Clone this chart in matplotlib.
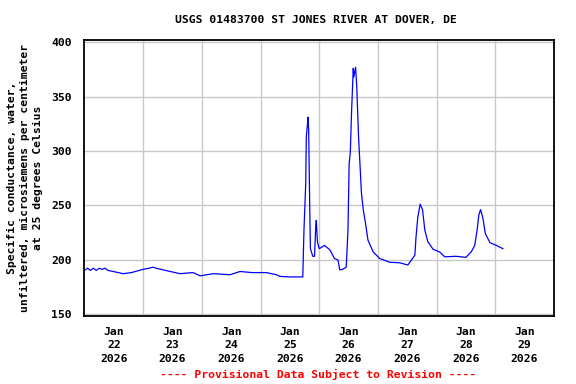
import matplotlib
matplotlib.use("Agg")
import matplotlib.pyplot as plt

# time in days since Jan 22 2026 00:00, specific conductance (uS/cm)
days = [0.00, 0.05, 0.10, 0.15, 0.20, 0.25, 0.30, 0.35, 0.40, 0.49, 0.66, 0.80, 1.00,
        1.10, 1.17, 1.22, 1.30, 1.46, 1.63, 1.85, 1.97, 2.20, 2.48, 2.65, 2.85, 3.10,
        3.27, 3.33, 3.50, 3.72, 3.74, 3.77, 3.78, 3.80, 3.81, 3.82, 3.84, 3.85, 3.89,
        3.92, 3.94, 3.95, 3.97, 4.00, 4.09, 4.18, 4.26, 4.32, 4.35, 4.40, 4.46, 4.49,
        4.51, 4.53, 4.55, 4.58, 4.59, 4.62, 4.64, 4.67, 4.70, 4.72, 4.75, 4.79, 4.83,
        4.92, 5.03, 5.20, 5.37, 5.51, 5.57, 5.63, 5.65, 5.68, 5.72, 5.76, 5.80, 5.85,
        5.94, 6.05, 6.14, 6.33, 6.50, 6.59, 6.65, 6.69, 6.72, 6.75, 6.79, 6.83, 6.91,
        7.02, 7.13]
cond = [190, 192, 190, 192, 190, 192, 191, 192, 190, 189, 187, 188, 191,
        192, 193, 192, 191, 189, 187, 188, 185, 187, 186, 189, 188, 188,
        186, 184.5, 184, 184, 227, 270, 313, 325, 331, 319, 242, 210, 203,
        203, 230, 236, 216, 210, 213, 209, 201, 199.5, 190.5, 191, 193, 227,
        288, 299, 334, 376, 368, 377, 359, 313, 282, 261, 246, 233, 218,
        207, 201, 197.5, 197, 195, 199.5, 204, 221, 239, 251, 246, 227, 216.5,
        209.5, 207, 202.5, 203, 202, 207, 213, 227, 241, 246, 238, 224, 215.5,
        213, 210]

tick_labels = ["Jan\n22\n2026", "Jan\n23\n2026", "Jan\n24\n2026", "Jan\n25\n2026",
               "Jan\n26\n2026", "Jan\n27\n2026", "Jan\n28\n2026", "Jan\n29\n2026"]

font = "DejaVu Sans Mono"
fs = 8.2
fig = plt.figure(figsize=(5.76, 3.84), dpi=100)
ax = fig.add_axes([0.1467, 0.177, 0.815, 0.72])

ax.plot(days, cond, color="#0000ff", linewidth=0.9)

ax.set_xlim(0, 8)
ax.set_ylim(148, 402.5)
ax.set_yticks([150, 200, 250, 300, 350, 400])
ax.set_xticks([i + 0.5 for i in range(8)])
ax.set_xticklabels(tick_labels, family=font, fontsize=fs, fontweight="bold", linespacing=1.4)
ax.set_xticks(range(1, 8), minor=True)
ax.grid(False)
ax.grid(True, which="minor", axis="x", color="#c8c8c8", linewidth=1)
ax.grid(True, which="major", axis="y", color="#c8c8c8", linewidth=1)
ax.tick_params(axis="x", which="both", length=0, pad=8)
ax.tick_params(axis="y", length=0, pad=9)
for lbl in ax.get_yticklabels():
    lbl.set_family(font)
    lbl.set_fontsize(fs)
    lbl.set_fontweight("bold")
for s in ax.spines.values():
    s.set_linewidth(1.3)

ax.set_ylabel("Specific conductance, water,\nunfiltered, microsiemens per centimeter\nat 25 degrees Celsius",
              family=font, fontsize=fs, fontweight="bold", linespacing=1.35, labelpad=6)
fig.text(0.549, 0.948, "USGS 01483700 ST JONES RIVER AT DOVER, DE", ha="center", va="center",
         family=font, fontsize=fs, fontweight="bold")
fig.text(0.552, 0.024, "---- Provisional Data Subject to Revision ----", ha="center", va="center",
         family=font, fontsize=fs, fontweight="bold", color="red")

fig.savefig("out.png", dpi=100)
